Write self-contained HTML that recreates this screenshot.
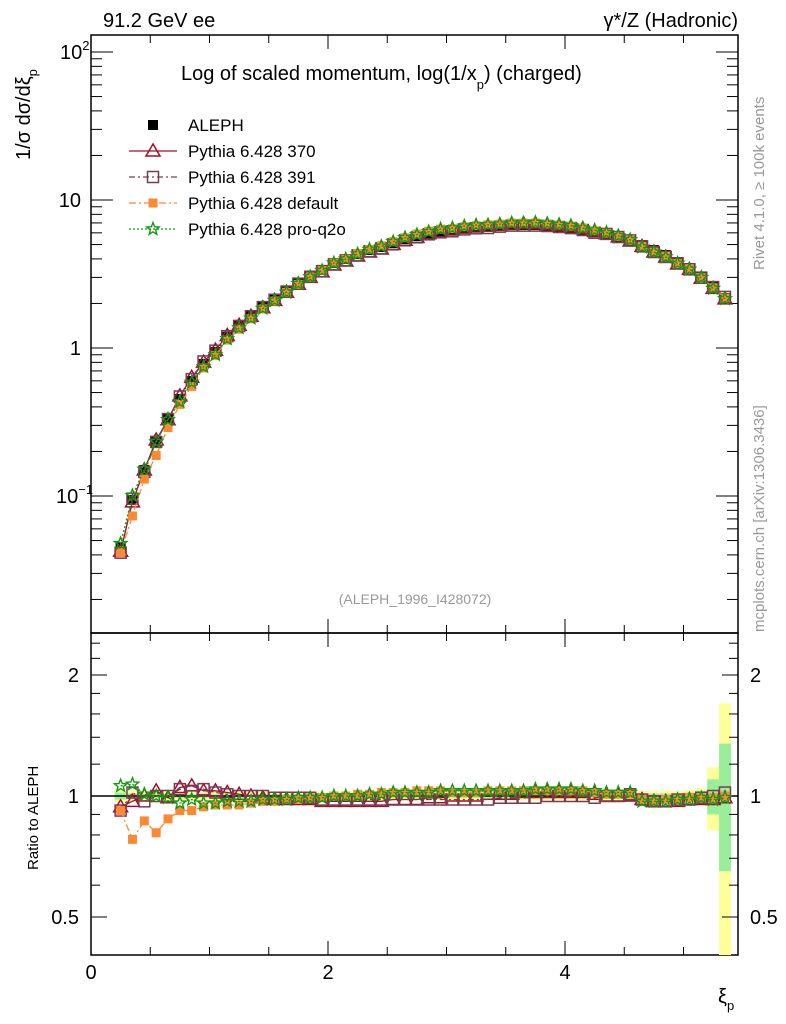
<!DOCTYPE html>
<html><head><meta charset="utf-8"><style>
body{margin:0;background:#fff}
svg{display:block;font-family:"Liberation Sans",sans-serif}
</style></head><body>
<svg id="c" width="786" height="1024" viewBox="0 0 786 1024"></svg>
<script>
const xs=[];for(let i=0;i<52;i++)xs.push(+(0.25+0.1*i).toFixed(2));
const aleph=[0.045,0.094,0.15,0.232,0.331,0.452,0.598,0.78,0.94,1.19,1.41,1.64,1.89,2.14,2.43,2.75,3.06,3.37,3.75,3.99,4.31,4.59,4.81,5.12,5.45,5.71,5.98,6.17,6.27,6.46,6.57,6.6,6.67,6.78,6.78,6.78,6.67,6.57,6.46,6.27,6.07,5.9,5.62,5.28,4.96,4.59,4.25,3.81,3.47,3.02,2.58,2.17];
const r370=[0.94,0.97,1.0,1.03,0.99,1.05,1.06,1.03,1.03,1.02,1.01,1.0,0.99,0.98,0.98,0.98,0.98,0.97,0.97,0.97,0.97,0.97,0.97,0.98,0.98,0.98,0.99,0.99,1.0,1.0,1.0,1.01,1.01,1.01,1.02,1.02,1.02,1.02,1.02,1.02,1.01,1.0,1.0,1.0,0.98,0.97,0.97,0.97,0.98,0.98,0.98,0.99];
const r391=[0.92,1.02,0.97,1.0,1.0,1.04,1.03,1.04,1.02,1.01,1.0,1.0,1.0,0.99,0.99,0.99,0.99,0.98,0.98,0.98,0.98,0.98,0.98,0.98,0.98,0.98,0.98,0.98,0.98,0.98,0.98,0.98,0.99,0.99,0.99,0.99,1.0,1.0,1.0,1.0,0.99,1.0,1.0,1.01,0.98,0.97,0.97,0.98,0.98,0.99,1.0,1.02];
const rdef=[0.92,0.78,0.867,0.81,0.877,0.92,0.92,0.94,0.95,0.95,0.95,0.96,0.97,0.97,0.98,0.98,0.99,0.99,1.0,1.0,1.01,1.01,1.02,1.02,1.02,1.03,1.03,1.03,1.02,1.02,1.02,1.03,1.03,1.03,1.03,1.03,1.03,1.03,1.03,1.03,1.02,1.01,1.01,1.01,0.98,0.97,0.98,0.98,0.99,0.99,0.99,1.0];
const rq2o=[1.06,1.07,1.01,1.0,0.99,0.96,0.98,0.96,0.96,0.97,0.97,0.97,0.98,0.98,0.98,0.99,0.99,0.99,1.0,1.0,1.0,1.01,1.01,1.02,1.02,1.02,1.02,1.03,1.03,1.03,1.03,1.03,1.03,1.03,1.03,1.04,1.04,1.04,1.04,1.03,1.03,1.02,1.02,1.02,0.97,0.97,0.97,0.98,0.98,0.99,0.98,0.99];
const statErr=[0.02,0.015,0.012,0.01,0.01,0.01,0.01,0.01,0.01,0.01,0.01,0.01,0.01,0.01,0.01,0.01,0.01,0.01,0.01,0.01,0.01,0.01,0.01,0.01,0.01,0.01,0.01,0.01,0.01,0.01,0.01,0.01,0.01,0.01,0.01,0.01,0.01,0.01,0.01,0.01,0.01,0.01,0.01,0.01,0.015,0.015,0.015,0.015,0.02,0.03,0.1,0.35];
const totErr=[0.04,0.03,0.03,0.025,0.025,0.025,0.025,0.025,0.025,0.025,0.025,0.025,0.025,0.025,0.025,0.025,0.025,0.025,0.025,0.025,0.025,0.025,0.025,0.025,0.025,0.025,0.025,0.025,0.025,0.025,0.025,0.025,0.025,0.025,0.025,0.025,0.025,0.025,0.025,0.025,0.025,0.025,0.025,0.025,0.03,0.03,0.03,0.03,0.035,0.045,0.18,0.7];
const xTicks=[0,2,4];
const yTicks=[0.1,1,10,100];
const rTicks=[0.5,1,2];

const NS="http://www.w3.org/2000/svg",svg=document.getElementById('c');
function el(t,a,p){const e=document.createElementNS(NS,t);for(const k in a)e.setAttribute(k,a[k]);(p||svg).appendChild(e);return e;}
const L=91,R=738,T=35,M=633,B=955;
const X=v=>L+v*118.5;
const Y=v=>348-148*Math.log10(v);
const RY=v=>796-121*Math.log2(v);

// frames
let f=el('rect',{x:L,y:T,width:R-L,height:M-T,fill:'none',stroke:'#000','stroke-width':1.5});

f=el('rect',{x:L,y:M,width:R-L,height:B-M,fill:'none',stroke:'#000','stroke-width':1.5});


// bands
const bands=el('g',{});
xs.forEach((x,i)=>{
  const x0=X(x-0.05),x1=i==xs.length-1?R-7:X(x+0.05);
  const t1=Math.min(RY(1+totErr[i]),RY(1+totErr[i])),b1=Math.min(RY(Math.max(1-totErr[i],0.401)),B);
  el('rect',{x:x0,y:t1,width:x1-x0,height:b1-t1,fill:'#ffff99'},bands);
  const t2=RY(1+statErr[i]),b2=RY(1-statErr[i]);
  el('rect',{x:x0,y:t2,width:x1-x0,height:b2-t2,fill:'#99ee99'},bands);
});
el('line',{x1:L,x2:R,y1:RY(1),y2:RY(1),stroke:'#000','stroke-width':1.5});

// ticks
const tk=el('g',{stroke:'#000','stroke-width':1});
for(let v=0;v<=5.45;v+=0.5){const big=Math.abs(v/2-Math.round(v/2))<1e-6;const len=big?14:8;const x=X(v);
  [[T,1],[M,-1],[M,1],[B,-1]].forEach(([y,d])=>el('line',{x1:x,x2:x,y1:y,y2:y+d*len},tk));}
for(let d=-2;d<=2;d++)for(let m=1;m<10;m++){const v=m*Math.pow(10,d);const y=Y(v);if(y<T||y>M)continue;const len=m==1?22:11;
  el('line',{x1:L,x2:L+len,y1:y,y2:y},tk);el('line',{x1:R,x2:R-len,y1:y,y2:y},tk);}
[0.5,0.6,0.7,0.8,0.9,1,1.2,1.4,1.6,1.8,2,2.2,2.4].forEach(v=>{const y=RY(v);const len=(v==0.5||v==1||v==2)?16:9;
  el('line',{x1:L,x2:L+len,y1:y,y2:y},tk);el('line',{x1:R,x2:R-len,y1:y,y2:y},tk);});

function txt(s,x,y,o,name){const t=el('text',Object.assign({x:x,y:y,'font-size':20,fill:'#000'},o||{}));t.textContent=s;
  return t;}
xTicks.forEach(v=>txt(String(v),X(v),979,{'text-anchor':'middle'},'x-tick-label'));
yTicks.forEach(v=>{const y=Y(v);let t;
  if(v==0.1){t=txt('10',L-14,y+7,{'text-anchor':'end'},'y-tick-label');const s=el('tspan',{dy:-9,'font-size':13},t);s.textContent='−1';t.setAttribute('x',L-35);t.setAttribute('text-anchor','start');}
  else if(v==100){t=txt('10',L-31,y+7,{},'y-tick-label');const s=el('tspan',{dy:-9,'font-size':13},t);s.textContent='2';}
  else txt(String(v),L-10,y+7,{'text-anchor':'end'},'y-tick-label');});
rTicks.forEach(v=>{txt(String(v),L-12,RY(v)+7,{'text-anchor':'end'},'ratio-tick-label');txt(String(v),R+12,RY(v)+7,{},'ratio-tick-label-right');});

// markers
function marker(g,type,x,y,col){
  if(type=='sq')el('rect',{x:x-5,y:y-5,width:10,height:10,fill:'#000'},g);
  else if(type=='tri')el('polygon',{points:`${x},${y-7} ${x-7},${y+5} ${x+7},${y+5}`,fill:'none',stroke:col,'stroke-width':1.5},g);
  else if(type=='osq')el('rect',{x:x-5.5,y:y-5.5,width:11,height:11,fill:'none',stroke:col,'stroke-width':1.5},g);
  else if(type=='fsq')el('rect',{x:x-4.5,y:y-4.5,width:9,height:9,fill:col},g);
  else if(type=='star'){let p=[];for(let k=0;k<10;k++){const r=k%2?2.8:6.5,a=-Math.PI/2+k*Math.PI/5;p.push((x+r*Math.cos(a)).toFixed(1)+','+(y+r*Math.sin(a)).toFixed(1));}
    el('polygon',{points:p.join(' '),fill:'none',stroke:col,'stroke-width':1.4},g);}
}
const series=[['pythia-370',r370,'#a0102a','tri',''],['pythia-391',r391,'#7a3a55','osq','6,3,2,3'],['pythia-default',rdef,'#ff8833','fsq','7,3,2,3'],['pythia-pro-q2o',rq2o,'#119911','star','2,2']];
// aleph main
const ga=el('g',{});
xs.forEach((x,i)=>marker(ga,'sq',X(x),Y(aleph[i])));
series.forEach(([nm,r,col,mk,da])=>{
  const g=el('g',{});
  const pm=xs.map((x,i)=>X(x)+','+Y(aleph[i]*r[i]).toFixed(1)).join(' ');
  el('polyline',{points:pm,fill:'none',stroke:col,'stroke-width':1.3,'stroke-dasharray':da},g);
  xs.forEach((x,i)=>marker(g,mk,X(x),Y(aleph[i]*r[i]),col));
  const g2=el('g',{});
  const pr=xs.map((x,i)=>X(x)+','+RY(r[i]).toFixed(1)).join(' ');
  el('polyline',{points:pr,fill:'none',stroke:col,'stroke-width':1.3,'stroke-dasharray':da},g2);
  xs.forEach((x,i)=>marker(g2,mk,X(x),RY(r[i]),col));
});

// legend
const lg=el('g',{});
marker(lg,'sq',153,125);
txt('ALEPH',188,131,{'font-size':17},'legend-entry-aleph');
series.forEach(([nm,r,col,mk,da],i)=>{const y=151+i*26;
  el('line',{x1:129,x2:177,y1:y,y2:y,stroke:col,'stroke-width':1.3,'stroke-dasharray':da},lg);
  marker(lg,mk,153,y,col);
  txt(['Pythia 6.428 370','Pythia 6.428 391','Pythia 6.428 default','Pythia 6.428 pro-q2o'][i],188,y+6,{'font-size':17},'legend-entry-'+nm);});

// texts
txt('91.2 GeV ee',103,27,{},'energy-label');
txt('γ*/Z (Hadronic)',738,27,{'text-anchor':'end'},'process-label');
let t=txt('Log of scaled momentum, log(1/x',181,80,{},'plot-title');
let s=el('tspan',{dy:9,'font-size':13},t);s.textContent='p';s=el('tspan',{dy:-9},t);s.textContent=') (charged)';
txt('(ALEPH_1996_I428072)',415,604,{'text-anchor':'middle','font-size':14,fill:'#999'},'analysis-id');
t=txt('1/σ  dσ/dξ',0,0,{transform:'translate(30,160) rotate(-90)'},'y-axis-title');
s=el('tspan',{dy:7,'font-size':13},t);s.textContent='p';
txt('Ratio to ALEPH',0,0,{transform:'translate(38,870) rotate(-90)','font-size':15},'ratio-axis-title');
t=txt('ξ',718,1003,{},'x-axis-title');s=el('tspan',{dy:7,'font-size':13},t);s.textContent='p';
txt('Rivet 4.1.0, ≥ 100k events',0,0,{transform:'translate(764,270) rotate(-90)','font-size':15,fill:'#999'},'rivet-label');
txt('mcplots.cern.ch [arXiv:1306.3436]',0,0,{transform:'translate(764,632) rotate(-90)','font-size':15,fill:'#999'},'mcplots-label');
</script>
</body></html>
